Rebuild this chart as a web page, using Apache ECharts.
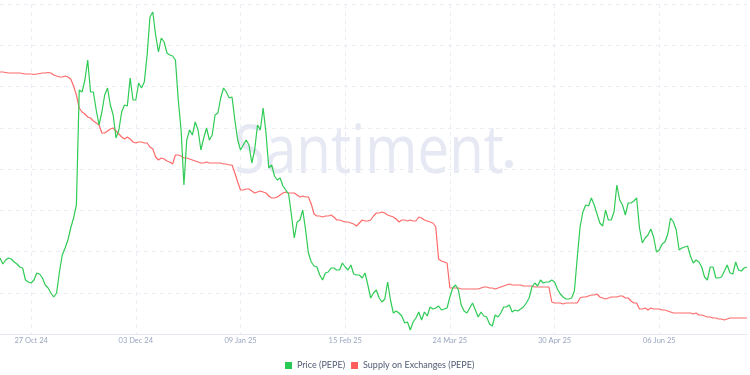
<!DOCTYPE html>
<html>
<head>
<meta charset="utf-8">
<script src="https://cdn.jsdelivr.net/npm/echarts@6/dist/echarts.min.js"></script>
<style>
html,body{margin:0;padding:0;background:#fff;}
#chart{width:750px;height:375px;}
</style>
</head>
<body>
<div id="chart"></div>
<script>
// Daily points from 16 Oct 2024 to 07 Jul 2025
const startDate = '2024-10-16';
const pointCount = 265;
const tickLabels = ['27 Oct 24', '03 Dec 24', '09 Jan 25', '15 Feb 25', '24 Mar 25', '30 Apr 25', '06 Jun 25'];

// PEPE price, USD x 1e-6
const price = [
10.84,10.42,10.70,10.84,10.77,10.56,10.42,10.21,10.14,9.30,9.16,9.09,9.30,9.79,9.72,9.44,8.95,8.74,8.39,8.11,
8.39,9.86,11.05,11.54,12.10,12.94,13.64,14.55,22.60,22.46,23.30,24.70,22.46,22.46,21.20,20.15,21.06,22.25,22.74,21.55,
20.85,19.24,19.80,21.06,21.55,21.48,23.44,21.90,21.90,23.09,22.74,23.16,25.05,27.71,28.06,26.45,25.26,26.24,25.96,25.19,
25.05,24.98,24.70,21.90,19.80,15.95,19.10,19.80,19.45,20.36,19.80,18.40,19.24,19.94,19.10,19.45,20.85,20.99,22.04,22.74,
22.46,22.04,22.11,20.50,19.10,18.40,18.75,19.10,18.75,17.49,18.40,20.15,19.80,21.34,19.59,17.14,17.35,16.58,16.30,16.44,
15.88,15.60,15.32,13.85,12.24,13.36,13.50,14.20,12.80,11.19,10.56,10.28,10.21,9.65,9.30,9.79,9.86,10.14,10.14,10.00,
10.00,10.49,10.21,10.00,10.35,9.72,9.65,9.65,9.44,9.79,8.95,8.04,8.39,8.60,8.04,7.76,7.97,9.16,7.90,6.99,
7.13,6.99,6.78,6.29,6.36,5.80,6.36,6.64,7.06,6.50,7.06,6.78,7.41,7.27,7.34,7.48,7.20,7.27,7.34,8.11,
8.74,8.95,8.60,7.55,7.13,6.99,7.34,7.69,7.20,6.71,7.06,6.78,6.71,6.22,6.08,6.85,6.71,6.99,7.41,7.41,
7.55,7.06,7.20,7.13,7.27,7.41,7.69,8.04,8.81,9.09,8.88,9.30,9.09,9.16,9.16,9.30,9.16,8.67,8.32,8.11,
7.97,7.97,8.04,8.53,10.84,13.01,14.06,14.55,14.48,15.04,14.55,13.92,13.29,13.08,14.20,13.50,13.50,14.06,15.95,14.90,
14.55,13.85,14.69,14.69,14.83,15.04,12.94,11.89,12.24,12.45,12.87,12.31,11.26,11.40,11.82,11.96,12.52,13.64,13.36,12.80,
11.40,11.54,11.61,11.68,10.98,10.49,10.70,10.56,10.21,9.51,9.30,10.21,10.21,9.44,9.44,9.51,9.93,10.35,9.79,9.72,
10.56,10.00,9.93,10.14,10.21
];

// Supply on exchanges (PEPE), trillions
const supply = [
162.8,162.8,162.75,162.7,162.7,162.7,162.7,162.7,162.65,162.6,162.6,162.6,162.55,162.6,162.65,162.7,162.7,162.75,162.7,162.5,
162.4,162.3,162.3,162.4,162.3,162.1,161.4,160.5,159.2,158.8,158.6,158.3,158.2,157.9,157.7,157.5,156.7,156.7,156.9,157.1,
157.2,156.9,156.6,156.3,156.1,156.3,156.1,155.8,155.7,155.8,155.8,155.7,155.7,155.3,155.1,154.3,154.0,154.2,154.1,153.9,
153.8,153.6,154.5,154.5,154.4,154.2,154.2,154.1,154.0,153.9,153.8,153.7,153.7,153.8,153.7,153.7,153.7,153.7,153.7,153.6,
153.6,153.5,153.5,152.7,151.8,151.0,151.0,151.1,151.1,150.9,150.7,150.8,150.9,150.8,150.7,150.4,150.2,150.2,150.3,150.5,
150.7,150.8,150.7,150.7,150.7,150.5,150.3,150.4,150.3,150.3,149.6,148.6,148.4,148.4,148.3,148.4,148.4,148.5,148.3,148.0,
148.0,147.9,147.8,147.8,147.7,147.6,147.4,147.7,148.0,147.9,147.9,148.0,148.4,148.7,148.7,148.8,148.7,148.5,148.4,148.3,
148.1,147.8,148.0,148.0,147.9,148.0,147.9,147.9,148.3,148.2,148.0,147.9,147.8,147.7,147.3,144.1,143.9,143.8,143.7,141.2,
141.2,141.2,141.2,141.1,141.1,141.1,141.1,141.1,141.1,141.1,141.2,141.3,141.3,141.2,141.2,141.1,141.2,141.3,141.4,141.5,
141.6,141.5,141.5,141.5,141.5,141.4,141.4,141.4,141.4,141.3,141.3,141.3,141.3,141.3,141.3,139.8,139.7,139.7,139.7,139.6,
139.7,139.7,139.7,139.7,139.7,140.2,140.3,140.3,140.4,140.5,140.5,140.6,140.3,140.2,140.1,140.2,140.3,140.3,140.3,140.4,
140.4,140.2,140.2,139.9,139.7,139.7,139.1,139.1,139.2,139.0,139.2,139.1,139.1,139.1,139.0,139.0,138.9,138.8,138.7,138.7,
138.7,138.7,138.7,138.7,138.7,138.6,138.7,138.5,138.5,138.4,138.3,138.3,138.2,138.2,138.1,138.1,138.0,138.1,138.2,138.2,
138.2,138.2,138.2,138.2,138.2
];

const monthNames = ['Jan','Feb','Mar','Apr','May','Jun','Jul','Aug','Sep','Oct','Nov','Dec'];
const categories = [];
{
  const d0 = new Date(startDate + 'T00:00:00Z');
  for (let i = 0; i < pointCount; i++) {
    const d = new Date(d0.getTime() + i * 86400000);
    const dd = String(d.getUTCDate()).padStart(2, '0');
    const yy = String(d.getUTCFullYear()).slice(2);
    categories.push(dd + ' ' + monthNames[d.getUTCMonth()] + ' ' + yy);
  }
}

const isTick = (idx, val) => tickLabels.indexOf(categories[idx]) >= 0;

const chart = echarts.init(document.getElementById('chart'), null, {renderer: 'canvas'});
chart.setOption({
  animation: false,
  backgroundColor: '#ffffff',
  graphic: [{
    type: 'text',
    x: 234,
    y: 120,
    scaleX: 0.83,
    z: 0,
    silent: true,
    style: {
      text: 'Santiment',
      font: '400 68px "Open Sans", "Noto Sans", sans-serif',
      fill: '#e6e9f3'
    }
  }, {
    type: 'circle',
    shape: {cx: 509, cy: 164, r: 4},
    z: 0,
    silent: true,
    style: {fill: '#e6e9f3'}
  }],
  legend: {
    top: 356,
    left: 280,
    icon: 'rect',
    itemWidth: 7,
    itemHeight: 7,
    itemGap: 6,
    textStyle: {fontSize: 9, color: '#505a73', fontFamily: 'Lato, "Open Sans", sans-serif'},
    data: ['Price (PEPE)', 'Supply on Exchanges (PEPE)']
  },
  grid: {left: 0, right: 3, top: 4, bottom: 41, containLabel: false},
  xAxis: {
    type: 'category',
    data: categories,
    boundaryGap: false,
    axisLine: {show: true, lineStyle: {color: '#e4e7f2', width: 1}},
    axisTick: {show: false},
    axisLabel: {
      interval: isTick,
      fontSize: 7.5,
      color: '#9ba6c0',
      margin: 3,
      fontFamily: 'Lato, "Open Sans", sans-serif'
    },
    splitLine: {
      show: true,
      interval: isTick,
      lineStyle: {color: '#eceef5', type: [4, 4], width: 1}
    }
  },
  yAxis: [{
    type: 'value',
    min: 5.52,
    max: 28.62,
    show: false,
    splitLine: {show: false}
  }, {
    type: 'value',
    min: 136.6,
    max: 169.6,
    show: false,
    splitLine: {show: false}
  }, {
    type: 'value',
    min: 0,
    max: 8,
    interval: 1,
    axisLine: {show: false},
    axisTick: {show: false},
    axisLabel: {show: false},
    splitLine: {show: true, lineStyle: {color: '#eceef5', type: [4, 4], width: 1}}
  }],
  series: [{
    name: 'Price (PEPE)',
    type: 'line',
    yAxisIndex: 0,
    data: price,
    showSymbol: false,
    symbol: 'none',
    lineStyle: {color: '#2fcb55', width: 1.2},
    itemStyle: {color: '#26c953'},
    z: 3
  }, {
    name: 'Supply on Exchanges (PEPE)',
    type: 'line',
    yAxisIndex: 1,
    data: supply,
    showSymbol: false,
    symbol: 'none',
    lineStyle: {color: '#ff6b6b', width: 1.2},
    itemStyle: {color: '#ff5b5b'},
    z: 2
  }]
});
</script>
</body>
</html>
